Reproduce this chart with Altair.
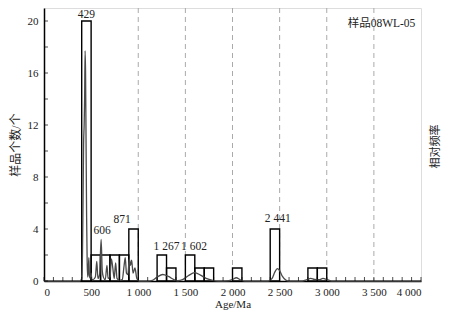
import altair as alt
import pandas as pd

# histogram bins (Ma) and counts
bin_start = [400, 500, 600, 700, 800, 900, 1200, 1300, 1500, 1600, 1700, 2000, 2400, 2800, 2900]
bin_end   = [500, 600, 700, 800, 900, 1000, 1300, 1400, 1600, 1700, 1800, 2100, 2500, 2900, 3000]
counts    = [20, 2, 2, 2, 2, 4, 2, 1, 2, 1, 1, 1, 4, 1, 1]

# relative probability curve (scaled to count axis)
curve_age = [0, 380, 400, 408, 414, 420, 426, 431, 436, 441, 446, 452, 458, 464, 470, 476, 482, 490,
             500, 508, 520, 545, 560, 572, 590, 606, 618, 630, 650, 668, 680, 700, 715, 730, 745, 760,
             775, 800, 830, 850, 862, 875, 890, 905, 918, 930, 945, 965, 985, 1010, 1100, 1150, 1200,
             1260, 1320, 1380, 1420, 1470, 1530, 1600, 1660, 1720, 1790, 1850, 1960, 2000, 2040, 2080,
             2130, 2380, 2420, 2450, 2475, 2500, 2530, 2570, 2600, 2740, 2790, 2830, 2870, 2920, 2960,
             3000, 3050, 4000]
curve_val = [0, 0, 0.2, 2, 6, 10.5, 12, 14, 17.7, 16, 11, 5, 1.5, 0.3, 0.8, 1.8, 0.4, 0.2,
             0.6, 0.1, 0.1, 0.3, 1.5, 0.2, 0.5, 3.2, 0.8, 0.3, 0.1, 1.2, 0.2, 0.3, 1.7, 1.0, 0.2, 1.4,
             0.2, 0.05, 0.1, 1.2, 1.8, 0.6, 0.5, 1.7, 1.2, 1.6, 0.6, 1.0, 0.2, 0, 0, 0.05, 0.3,
             0.5, 0.35, 0.1, 0.02, 0.1, 0.4, 0.64, 0.45, 0.2, 0.05, 0, 0.02, 0.12, 0.25, 0.1,
             0, 0, 0.2, 0.7, 0.95, 0.8, 0.35, 0.05, 0, 0, 0.1, 0.2, 0.12, 0.1, 0.2,
             0.12, 0, 0]

# peak age labels
peak_text = ["429", "606", "871", "1 267", "1 602", "2 441"]
peak_x    = [450, 618, 830, 1300, 1592, 2480]
peak_y    = [20, 3.35, 4.2, 2.15, 2.15, 4.3]

dash_x = [1000, 1500, 2000, 2500, 3000, 3500]
x_ticks = list(range(0, 4001, 100))
y_ticks = list(range(0, 21, 2))

FONT = "Liberation Serif, Noto Sans CJK SC"
W, H = 377, 273

bars_df = pd.DataFrame({"s": bin_start, "e": bin_end, "n": counts})
curve_df = pd.DataFrame({"age": curve_age, "v": curve_val})
lab_df = pd.DataFrame({"t": peak_text, "x": peak_x, "y": peak_y})

xs = alt.Scale(domain=[0, 4000], nice=False, zero=False)
ys = alt.Scale(domain=[0, 21], nice=False)

x_axis = alt.Axis(values=list(range(0, 4001, 500)), ticks=False, grid=False,
                  labelExpr="datum.value >= 1000 ? replace(format(datum.value, ','), ',', ' ') : datum.value",
                  title="Age/Ma", labelPadding=5, titlePadding=1, labelFontSize=11,
                  titleFontSize=11, titleFontWeight="normal", titleFont=FONT, labelFont=FONT,
                  domainColor="black", domainWidth=1.5, labelColor="#222", titleColor="#222")
y_axis = alt.Axis(values=list(range(0, 21, 4)), ticks=False, grid=False, title="样品个数/个",
                  labelPadding=6, titlePadding=5, labelFontSize=11, titleFontSize=12,
                  titleFontWeight="normal", titleFont=FONT, labelFont=FONT,
                  domainColor="black", domainWidth=1.5, labelColor="#222", titleColor="#222")

dashes = alt.Chart(pd.DataFrame({"x": dash_x})).mark_rule(
    color="#aaaaaa", strokeDash=[5, 4], strokeWidth=1).encode(
    x=alt.X("x:Q", scale=xs, axis=x_axis))

bars = alt.Chart(bars_df).mark_rect(fill=None, stroke="black", strokeWidth=1.4).encode(
    x=alt.X("s:Q", scale=xs, axis=x_axis), x2="e:Q",
    y=alt.Y("n:Q", scale=ys, axis=y_axis), y2=alt.datum(0))

curve = alt.Chart(curve_df).mark_line(color="#4a4a4a", strokeWidth=1.3, interpolate="monotone").encode(
    x=alt.X("age:Q", scale=xs), y=alt.Y("v:Q", scale=ys))

labels = alt.Chart(lab_df).mark_text(font=FONT, fontSize=11.5, baseline="bottom", dy=-1, color="#222").encode(
    x=alt.X("x:Q", scale=xs), y=alt.Y("y:Q", scale=ys), text="t:N")

xt = alt.Chart(pd.DataFrame({"x": x_ticks})).mark_tick(orient="vertical", size=4, thickness=1, color="black",
                                                        yOffset=-2).encode(
    x=alt.X("x:Q", scale=xs), y=alt.datum(0, scale=ys))
yt = alt.Chart(pd.DataFrame({"y": y_ticks})).mark_tick(orient="horizontal", size=4, thickness=1, color="black",
                                                        xOffset=2).encode(
    y=alt.Y("y:Q", scale=ys), x=alt.datum(0, scale=xs))

sample = alt.Chart(pd.DataFrame({"t": ["样品08WL-05"]})).mark_text(
    font=FONT, fontSize=11.5, align="right", baseline="middle", color="#222").encode(
    x=alt.datum(3940, scale=xs), y=alt.datum(19.8, scale=ys), text="t:N")

right_title = alt.Chart(pd.DataFrame({"t": ["相对频率"]})).mark_text(
    font=FONT, fontSize=11, angle=270, align="center", baseline="middle", color="#222").encode(
    x=alt.value(W + 15), y=alt.value(H / 2 + 2), text="t:N")

chart = alt.layer(dashes, bars, curve, labels, xt, yt, sample, right_title).properties(
    width=W, height=H,
    autosize=alt.AutoSizeParams(type="none"),
    padding={"left": 36, "top": 0, "right": 22, "bottom": 30},
).configure_view(stroke="black", strokeWidth=1.5).configure(background="white")

chart.save("out.html", embed_options={"renderer": "svg", "actions": False})
